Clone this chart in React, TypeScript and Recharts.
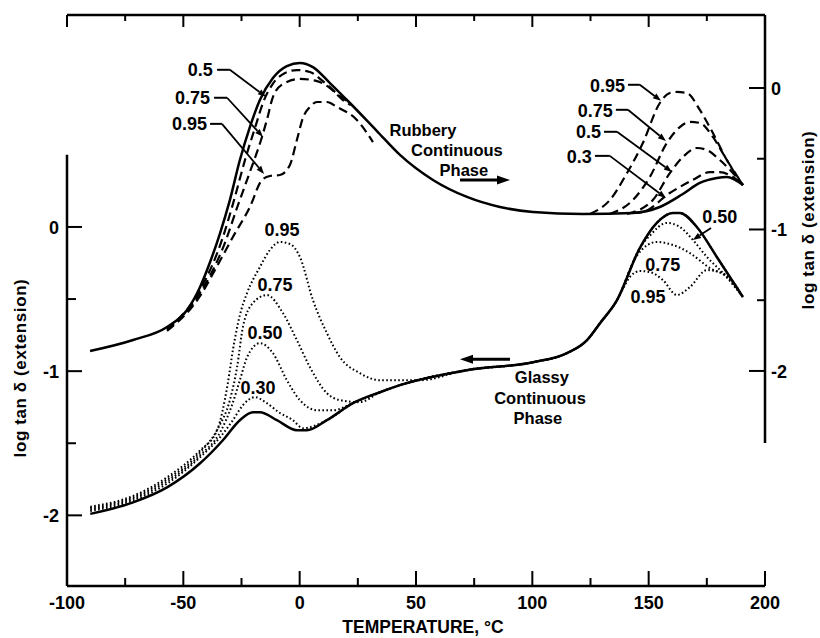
import React from 'react';
import { LineChart, Line, XAxis, YAxis, ReferenceLine, ReferenceDot } from 'recharts';

type Pt = [number, number];

// ---- axes ----
const tempTicks = [-100, -75, -50, -25, 0, 25, 50, 75, 100, 125, 150, 175, 200];
const tempLabels = [-100, -50, 0, 50, 100, 150, 200];
const logTicks = [-2, -1.5, -1, -0.5, 0];
const logLabels = [-2, -1, 0];
const tempDomain: [number, number] = [-100, 200];
const leftDomain: [number, number] = [-2.49, 1.47];
const rightDomain: [number, number] = [-3.52, 0.516];
const leftAxisSpan: [number, number] = [-2.49, 0.5];
const rightAxisSpan: [number, number] = [-2.51, 0.516];

// ---- Glassy continuous phase (left axis) ----
const glassySolid: Pt[] = [[-90, -1.99], [-71.6, -1.91], [-57, -1.806], [-42.8, -1.639], [-33, -1.479], [-25.7, -1.34], [-20.1, -1.285], [-17.1, -1.285], [-9.8, -1.34], [-1.2, -1.41], [3.1, -1.41], [11.7, -1.34], [22.9, -1.222], [34.5, -1.146], [43.1, -1.097], [71.9, -0.993], [100.3, -0.938], [114.9, -0.875], [123.5, -0.785], [129.1, -0.667], [136.4, -0.507], [146.2, -0.146], [153.5, 0.028], [160.4, 0.097], [163.4, 0.097], [170.7, 0.0], [179.3, -0.208], [190.5, -0.486]];
const glassy030: Pt[] = [[-90, -1.97], [-71.6, -1.896], [-57, -1.78], [-42.8, -1.597], [-34.2, -1.458], [-28.7, -1.34], [-24.4, -1.236], [-19.2, -1.18], [-14.1, -1.222], [-8.5, -1.29], [-2.9, -1.34], [1.4, -1.396], [11.7, -1.34], [22.9, -1.222], [34.5, -1.146], [43.1, -1.097], [71.9, -0.993], [100.3, -0.938], [114.9, -0.875], [123.5, -0.785], [129.1, -0.667], [136.4, -0.507], [146.2, -0.146], [153.5, 0.028], [160.4, 0.097], [163.4, 0.097], [170.7, 0.0], [179.3, -0.208], [190.5, -0.486]];
const glassy050: Pt[] = [[-90, -1.96], [-71.6, -1.885], [-57, -1.764], [-42.8, -1.583], [-34.2, -1.424], [-29.1, -1.236], [-25.7, -1.063], [-22.6, -0.903], [-17.1, -0.806], [-11.5, -0.875], [-5.5, -1.063], [0.1, -1.201], [7.4, -1.271], [14.3, -1.271], [22.9, -1.222], [34.5, -1.146], [43.1, -1.097], [71.9, -0.993], [100.3, -0.938], [114.9, -0.875], [123.5, -0.785], [129.1, -0.667], [136.4, -0.507], [146.2, -0.146], [150.5, -0.06], [157.8, 0.028], [163.4, 0.0], [169, -0.09], [175, -0.208], [181.9, -0.319], [190.5, -0.486]];
const glassy075: Pt[] = [[-90, -1.95], [-71.6, -1.875], [-57, -1.75], [-42.8, -1.563], [-35.1, -1.396], [-30, -1.201], [-26.9, -0.972], [-24.4, -0.694], [-20.1, -0.528], [-14.1, -0.472], [-7.2, -0.597], [-1.2, -0.785], [4.4, -0.972], [11.7, -1.153], [17.3, -1.201], [25.9, -1.215], [34.5, -1.146], [43.1, -1.097], [71.9, -0.993], [100.3, -0.938], [114.9, -0.875], [123.5, -0.785], [129.1, -0.667], [136.4, -0.507], [144.9, -0.2], [153.5, -0.104], [160.4, -0.125], [167.7, -0.181], [176.3, -0.285], [183.6, -0.347], [190.5, -0.486]];
const glassy095: Pt[] = [[-90, -1.94], [-71.6, -1.865], [-57, -1.736], [-42.8, -1.549], [-35.5, -1.41], [-30.8, -1.076], [-28.7, -0.854], [-25.7, -0.611], [-22.6, -0.458], [-17.1, -0.278], [-12.8, -0.16], [-8.5, -0.104], [-4.2, -0.118], [0.1, -0.208], [5.7, -0.507], [11.7, -0.736], [17.3, -0.903], [25.9, -1.014], [34.5, -1.063], [51.7, -1.063], [71.9, -0.99], [100.3, -0.938], [114.9, -0.875], [123.5, -0.785], [129.1, -0.667], [136.4, -0.507], [138.9, -0.43], [141.9, -0.347], [146.2, -0.306], [150.5, -0.3125], [156.1, -0.368], [162.1, -0.472], [167.7, -0.417], [175, -0.299], [180.6, -0.3125], [184.9, -0.354], [190.5, -0.486]];

// ---- Rubbery continuous phase (right axis) ----
const rubberySolid: Pt[] = [[-90.1, -1.859], [-71.6, -1.781], [-57, -1.689], [-48.4, -1.569], [-42.8, -1.406], [-38.5, -1.23], [-34.2, -1.025], [-30, -0.792], [-25.7, -0.509], [-21.4, -0.276], [-17.1, -0.085], [-11.5, 0.071], [-5.5, 0.155], [0.1, 0.177], [5.7, 0.148], [13, 0.035], [21.6, -0.106], [33.2, -0.304], [43.1, -0.473], [57.3, -0.65], [71.9, -0.77], [86.1, -0.841], [100.3, -0.876], [121.7, -0.89], [143.2, -0.883], [154.8, -0.841], [164.7, -0.749], [172, -0.671], [179.3, -0.636], [183.6, -0.629], [190.5, -0.686]];
const rubbery050Low: Pt[] = [[-57, -1.703], [-42.8, -1.428], [-33.4, -1.074], [-28.2, -0.792], [-23.5, -0.509], [-18.8, -0.261], [-15.8, -0.106], [-11.9, 0.021], [-6.3, 0.106], [-1.2, 0.127], [4.4, 0.113], [10.9, 0.035], [17.3, -0.057], [21.6, -0.106]];
const rubbery075Low: Pt[] = [[-57, -1.71], [-42.8, -1.449], [-32.5, -1.11], [-26.5, -0.827], [-21.4, -0.594], [-16.2, -0.346], [-14.1, -0.226], [-11.5, -0.064], [-7.2, 0.028], [0.1, 0.064], [7.4, 0.049], [13, 0.0], [18.6, -0.085], [22, -0.12]];
const rubbery095Low: Pt[] = [[-57, -1.717], [-42.8, -1.47], [-36.4, -1.286], [-28.7, -1.053], [-21.4, -0.841], [-16.2, -0.65], [-12.8, -0.622], [-8.5, -0.615], [-4.2, -0.544], [-1.2, -0.367], [1.4, -0.212], [4.4, -0.134], [7.4, -0.099], [11.7, -0.099], [16, -0.134], [24.6, -0.226], [31.5, -0.382]];
const rubbery030High: Pt[] = [[143.2, -0.883], [147.5, -0.876], [159.1, -0.742], [169, -0.65], [176.3, -0.594], [180.6, -0.594], [186.2, -0.629], [190.5, -0.686]];
const rubbery050High: Pt[] = [[140.7, -0.89], [151.8, -0.792], [159.1, -0.601], [164.7, -0.488], [170.7, -0.424], [175, -0.438], [180.6, -0.509], [186.2, -0.601], [190.5, -0.686]];
const rubbery075High: Pt[] = [[133.3, -0.89], [143.2, -0.792], [150.5, -0.629], [157.8, -0.389], [163.4, -0.276], [167.7, -0.24], [172, -0.247], [177.6, -0.346], [183.6, -0.509], [190.5, -0.686]];
const rubbery095High: Pt[] = [[124.8, -0.89], [133.3, -0.792], [140.7, -0.601], [147.5, -0.389], [154.8, -0.106], [159.1, -0.035], [162.1, -0.028], [166.4, -0.035], [172, -0.155], [177.6, -0.318], [183.6, -0.509], [190.5, -0.686]];

// ---- annotations (temperature, left-axis value) ----
type Leader = { label: string; at: Pt; p0: Pt; p1: Pt; tip: Pt };
const leaders: Leader[] = [
  { label: '0.5', at: [-37.3, 1.09], p0: [-35.5, 1.09], p1: [-30, 1.09], tip: [-14.5, 0.903] },
  { label: '0.75', at: [-38.5, 0.896], p0: [-36.8, 0.896], p1: [-31.2, 0.896], tip: [-15.8, 0.625] },
  { label: '0.95', at: [-39.8, 0.715], p0: [-38.5, 0.715], p1: [-33.4, 0.715], tip: [-15.3, 0.368] },
  { label: '0.95', at: [139.8, 0.979], p0: [141.1, 0.986], p1: [146.2, 0.986], tip: [155.3, 0.875] },
  { label: '0.75', at: [134.6, 0.806], p0: [135.9, 0.8125], p1: [141.1, 0.8125], tip: [157.4, 0.597] },
  { label: '0.5', at: [129.5, 0.66], p0: [130.8, 0.66], p1: [136.4, 0.66], tip: [160.0, 0.382] },
  { label: '0.3', at: [125.6, 0.486], p0: [126.9, 0.493], p1: [133.3, 0.493], tip: [157.4, 0.201] },
];
type Note = { label: string; at: Pt };
const glassyNotes: Note[] = [
  { label: '0.95', at: [-7.6, -0.021] },
  { label: '0.75', at: [-10.6, -0.403] },
  { label: '0.50', at: [-14.9, -0.736] },
  { label: '0.30', at: [-17.9, -1.118] },
  { label: '0.50', at: [180.6, 0.069] },
  { label: '0.75', at: [156.1, -0.264] },
  { label: '0.95', at: [149.7, -0.486] },
];
const glassyPointer: [Pt, Pt] = [[176.8, -0.007], [169.0, -0.09]];
const phaseNotes: Note[] = [
  { label: 'Rubbery', at: [53.0, 0.674] },
  { label: 'Continuous', at: [67.6, 0.535] },
  { label: 'Phase', at: [70.6, 0.396] },
  { label: 'Glassy', at: [104.1, -1.042] },
  { label: 'Continuous', at: [103.3, -1.1875] },
  { label: 'Phase', at: [102.4, -1.326] },
];
const phaseArrows: [Pt, Pt][] = [
  [[68.9, 0.326], [90.4, 0.326]],
  [[90.4, -0.917], [68.9, -0.917]],
];

const FONT = '"Liberation Sans", Arial, Helvetica, sans-serif';
const rows = (pts: Pt[]) => pts.map(([t, v]) => ({ t, v }));

const BottomTick = (p: any) => {
  const major = tempLabels.includes(p.payload.value);
  return (
    <g>
      <line x1={p.x} x2={p.x} y1={p.y} y2={p.y - (major ? 15 : 8)} stroke="#000" strokeWidth={2} />
      {major && (
        <text x={p.x} y={p.y + 17} textAnchor="middle" dominantBaseline="central" fontFamily={FONT} fontWeight={700} fontSize={18} fill="#000">
          {p.payload.value}
        </text>
      )}
    </g>
  );
};
const TopTick = (p: any) => {
  const major = tempLabels.includes(p.payload.value);
  return <line x1={p.x} x2={p.x} y1={p.y} y2={p.y + (major ? 12 : 6)} stroke="#000" strokeWidth={2} />;
};
const LeftTick = (p: any) => {
  const major = logLabels.includes(p.payload.value);
  return (
    <g>
      <line x1={p.x} x2={p.x + (major ? 15 : 9)} y1={p.y} y2={p.y} stroke="#000" strokeWidth={2} />
      {major && (
        <text x={p.x - 8} y={p.y + 1} textAnchor="end" dominantBaseline="central" fontFamily={FONT} fontWeight={700} fontSize={18} fill="#000">
          {p.payload.value}
        </text>
      )}
    </g>
  );
};
const RightTick = (p: any) => {
  const major = logLabels.includes(p.payload.value);
  return (
    <g>
      <line x1={p.x - (major ? 16 : 8)} x2={p.x} y1={p.y} y2={p.y} stroke="#000" strokeWidth={2} />
      {major && (
        <text x={p.x + 6} y={p.y + 1} textAnchor="start" dominantBaseline="central" fontFamily={FONT} fontWeight={700} fontSize={18} fill="#000">
          {p.payload.value}
        </text>
      )}
    </g>
  );
};

const arrowShape = (head: number, width: number, sw: number) => (p: any) => {
  const { x1, y1, x2, y2 } = p;
  const a = Math.atan2(y2 - y1, x2 - x1);
  const bx = x2 - head * Math.cos(a);
  const by = y2 - head * Math.sin(a);
  const nx = (-Math.sin(a) * width) / 2;
  const ny = (Math.cos(a) * width) / 2;
  return (
    <g>
      <line x1={x1} y1={y1} x2={bx} y2={by} stroke="#000" strokeWidth={sw} />
      <polygon points={`${x2},${y2} ${bx + nx},${by + ny} ${bx - nx},${by - ny}`} fill="#000" />
    </g>
  );
};

const textShape = (label: string, anchor: string, size: number) => (p: any) => (
  <text x={p.cx} y={p.cy} textAnchor={anchor} dominantBaseline="central" fontFamily={FONT} fontWeight={700} fontSize={size} fill="#000">
    {label}
  </text>
);

const vTitle = (dx: number, dy: number) => (p: any) => {
  const vb = p.viewBox;
  const cx = vb.x + dx;
  const cy = vb.y + dy;
  return (
    <text x={cx} y={cy} transform={`rotate(-90 ${cx} ${cy})`} textAnchor="middle" dominantBaseline="central" fontFamily={FONT} fontWeight={700} fontSize={17} letterSpacing={0.6} fill="#000">
      log tan δ (extension)
    </text>
  );
};

const solid = { stroke: '#000', strokeWidth: 2.5 };
const dashed = { stroke: '#000', strokeWidth: 2.2, strokeDasharray: '9 5' };
const dotted = { stroke: '#000', strokeWidth: 2, strokeDasharray: '1.6 2.4' };

const series: { id: string; pts: Pt[]; axis: string; style: any }[] = [
  { id: 'gs', pts: glassySolid, axis: 'L', style: solid },
  { id: 'g30', pts: glassy030, axis: 'L', style: dotted },
  { id: 'g50', pts: glassy050, axis: 'L', style: dotted },
  { id: 'g75', pts: glassy075, axis: 'L', style: dotted },
  { id: 'g95', pts: glassy095, axis: 'L', style: dotted },
  { id: 'rs', pts: rubberySolid, axis: 'R', style: solid },
  { id: 'r50l', pts: rubbery050Low, axis: 'R', style: dashed },
  { id: 'r75l', pts: rubbery075Low, axis: 'R', style: dashed },
  { id: 'r95l', pts: rubbery095Low, axis: 'R', style: dashed },
  { id: 'r30h', pts: rubbery030High, axis: 'R', style: dashed },
  { id: 'r50h', pts: rubbery050High, axis: 'R', style: dashed },
  { id: 'r75h', pts: rubbery075High, axis: 'R', style: dashed },
  { id: 'r95h', pts: rubbery095High, axis: 'R', style: dashed },
];

export default function App() {
  const refs: React.ReactElement[] = [];
  refs.push(
    <ReferenceLine key="laxis" xAxisId="b" yAxisId="L" ifOverflow="visible" segment={[{ x: -100, y: leftAxisSpan[0] }, { x: -100, y: leftAxisSpan[1] }]} stroke="#000" strokeWidth={2.5} />,
    <ReferenceLine key="raxis" xAxisId="b" yAxisId="R" ifOverflow="visible" segment={[{ x: 200, y: rightAxisSpan[0] }, { x: 200, y: rightAxisSpan[1] }]} stroke="#000" strokeWidth={2.5} />,
  );
  leaders.forEach((l, i) => {
    refs.push(
      <ReferenceLine key={`lh${i}`} xAxisId="b" yAxisId="L" ifOverflow="visible" segment={[{ x: l.p0[0], y: l.p0[1] }, { x: l.p1[0], y: l.p1[1] }]} stroke="#000" strokeWidth={2} />,
      <ReferenceLine key={`ld${i}`} xAxisId="b" yAxisId="L" ifOverflow="visible" segment={[{ x: l.p1[0], y: l.p1[1] }, { x: l.tip[0], y: l.tip[1] }]} shape={arrowShape(8, 6, 1.8)} />,
      <ReferenceDot key={`lt${i}`} xAxisId="b" yAxisId="L" ifOverflow="visible" x={l.at[0]} y={l.at[1]} r={0} shape={textShape(l.label, 'end', 18)} />,
    );
  });
  glassyNotes.forEach((n, i) => {
    refs.push(<ReferenceDot key={`gn${i}`} xAxisId="b" yAxisId="L" ifOverflow="visible" x={n.at[0]} y={n.at[1]} r={0} shape={textShape(n.label, 'middle', 18)} />);
  });
  refs.push(
    <ReferenceLine key="gp" xAxisId="b" yAxisId="L" ifOverflow="visible" segment={[{ x: glassyPointer[0][0], y: glassyPointer[0][1] }, { x: glassyPointer[1][0], y: glassyPointer[1][1] }]} shape={arrowShape(8, 6, 1.8)} />,
  );
  phaseNotes.forEach((n, i) => {
    refs.push(<ReferenceDot key={`pn${i}`} xAxisId="b" yAxisId="L" ifOverflow="visible" x={n.at[0]} y={n.at[1]} r={0} shape={textShape(n.label, 'middle', 16.5)} />);
  });
  phaseArrows.forEach((a, i) => {
    refs.push(<ReferenceLine key={`pa${i}`} xAxisId="b" yAxisId="L" ifOverflow="visible" segment={[{ x: a[0][0], y: a[0][1] }, { x: a[1][0], y: a[1][1] }]} shape={arrowShape(13, 9, 3)} />);
  });

  return (
    <div style={{ position: 'absolute', left: 0, top: 0, width: 820, height: 638, background: '#fff' }}>
      <LineChart width={820} height={638} margin={{ top: 0, right: 0, bottom: 0, left: 0 }}>
        <XAxis
          xAxisId="b"
          dataKey="t"
          type="number"
          domain={tempDomain}
          ticks={tempTicks}
          interval={0}
          allowDataOverflow
          height={52}
          tickSize={0}
          tickMargin={0}
          tickLine={false}
          axisLine={{ stroke: '#000', strokeWidth: 2.5 }}
          tick={BottomTick}
          label={{
            content: (p: any) => {
              const vb = p.viewBox;
              return (
                <text x={vb.x + vb.width / 2 + 7} y={vb.y + 41} textAnchor="middle" dominantBaseline="central" fontFamily={FONT} fontWeight={700} fontSize={17.5} fill="#000">
                  TEMPERATURE, °C
                </text>
              );
            },
          }}
        />
        <XAxis
          xAxisId="t"
          orientation="top"
          dataKey="t"
          type="number"
          domain={tempDomain}
          ticks={tempTicks}
          interval={0}
          allowDataOverflow
          height={15}
          tickSize={0}
          tickMargin={0}
          tickLine={false}
          axisLine={{ stroke: '#000', strokeWidth: 2.5 }}
          tick={TopTick}
        />
        <YAxis
          yAxisId="L"
          type="number"
          domain={leftDomain}
          ticks={logTicks}
          interval={0}
          allowDataOverflow
          width={67}
          tickSize={0}
          tickMargin={0}
          tickLine={false}
          axisLine={false}
          tick={LeftTick}
          label={{ content: vTitle(20, 353) }}
        />
        <YAxis
          yAxisId="R"
          orientation="right"
          type="number"
          domain={rightDomain}
          ticks={logTicks}
          interval={0}
          allowDataOverflow
          width={55}
          tickSize={0}
          tickMargin={0}
          tickLine={false}
          axisLine={false}
          tick={RightTick}
          label={{ content: vTitle(43, 205) }}
        />
        {series.map((s) => (
          <Line
            key={s.id}
            data={rows(s.pts)}
            dataKey="v"
            xAxisId="b"
            yAxisId={s.axis}
            type="monotone"
            dot={false}
            activeDot={false}
            isAnimationActive={false}
            {...s.style}
          />
        ))}
        {refs}
      </LineChart>
    </div>
  );
}
